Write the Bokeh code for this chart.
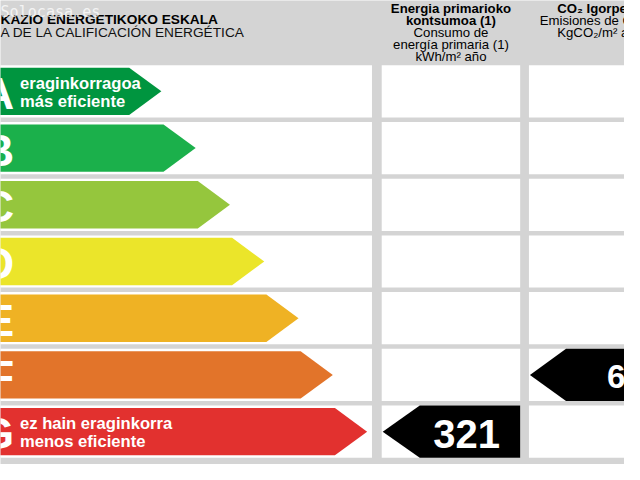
from bokeh.plotting import figure
from bokeh.models import Range1d
from bokeh.core.properties import value
from bokeh.embed import file_html
from bokeh.resources import INLINE

# ---- data ----
classes = ["A", "B", "C", "D", "E", "F", "G"]
class_colors = ["#00953f", "#1bb04b", "#95c63d", "#ebe52a", "#efb224", "#e2742a", "#e2312f"]
label_eu = ["eraginkorragoa", "", "", "", "", "", "ez hain eraginkorra"]
label_es = ["más eficiente", "", "", "", "", "", "menos eficiente"]
energy_class = "G"
energy_value = "321"
co2_class = "F"
co2_value = "6"
title_eu = "KAZIO ENERGETIKOKO ESKALA"
title_es = "A DE LA CALIFICACIÓN ENERGÉTICA"
col1_header = ["Energia primarioko", "kontsumoa (1)", "Consumo de", "energía primaria (1)", "kWh/m² año"]
col2_header = ["CO₂ Igorpenak", "Emisiones de CO₂", "KgCO₂/m² año"]

W, H = 624, 464
K = W / 640.0
FONT = value("Liberation Sans")

def fs(px):
    return value(f"{px * K:.1f}px")

p = figure(width=W, height=H, output_backend="svg", toolbar_location=None,
           x_range=Range1d(0, 640), y_range=Range1d(480, 0),
           min_border=0, background_fill_color="#d4d4d4", border_fill_color="#d4d4d4")
p.axis.visible = False
p.grid.visible = False
p.outline_line_color = None

ROW0, PITCH, ROWH = 67.0, 58.67, 54.0
def row_top(i):
    return ROW0 + PITCH * i
def row_c(i):
    return row_top(i) + ROWH / 2

n = len(classes)
# white panels
for (l, r) in [(-5, 381), (391, 533), (542, 645)]:
    p.quad(left=[l] * n, right=[r] * n,
           top=[row_top(i) for i in range(n)], bottom=[row_top(i) + ROWH for i in range(n)],
           fill_color="white", line_color=None)

# class arrows
xs, ys = [], []
for i in range(n):
    c = row_c(i)
    tip = 165 + 35.17 * i
    hh = 24.5
    xs.append([-60, tip - 33, tip, tip - 33, -60])
    ys.append([c - hh, c - hh, c, c + hh, c + hh])
p.patches(xs, ys, fill_color=class_colors, line_color=None)

# letters
p.text(x=[14] * n, y=[row_c(i) + 2 for i in range(n)], text=classes,
       text_align="right", text_baseline="middle", text_color="white",
       text_font=FONT, text_font_style="bold", text_font_size=fs(46))
# sub labels
for i in range(n):
    if label_eu[i]:
        c = row_c(i)
        p.text(x=[20], y=[c - 8], text=[label_eu[i]], text_align="left", text_baseline="middle",
               text_color="white", text_font=FONT, text_font_style="bold", text_font_size=fs(17))
        p.text(x=[20], y=[c + 10], text=[label_es[i]], text_align="left", text_baseline="middle",
               text_color="white", text_font=FONT, text_font_style="bold", text_font_size=fs(17))

# black indicator arrows
ei = classes.index(energy_class)
c = row_c(ei)
p.patch([392, 430, 533, 533, 430], [c, c - 27, c - 27, c + 27, c + 27], fill_color="black", line_color=None)
p.text(x=[478], y=[c + 2], text=[energy_value], text_align="center", text_baseline="middle",
       text_color="white", text_font=FONT, text_font_style="bold", text_font_size=fs(41))

ci = classes.index(co2_class)
c = row_c(ci)
p.patch([543, 580, 650, 650, 580], [c, c - 27, c - 27, c + 27, c + 27], fill_color="black", line_color=None)
p.text(x=[622], y=[c + 2], text=[co2_value], text_align="left", text_baseline="middle",
       text_color="white", text_font=FONT, text_font_style="bold", text_font_size=fs(34))

# headers
p.text(x=[0], y=[20], text=[title_eu], text_align="left", text_baseline="middle",
       text_color="black", text_font=FONT, text_font_style="bold", text_font_size=fs(14))
p.text(x=[0], y=[33], text=[title_es], text_align="left", text_baseline="middle",
       text_color="#111111", text_font=FONT, text_font_size=fs(14))

hy = [8, 20.5, 33, 45.5, 58]
for j, t in enumerate(col1_header):
    p.text(x=[462], y=[hy[j]], text=[t], text_align="center", text_baseline="middle",
           text_color="black", text_font=FONT, text_font_style="bold" if j < 2 else "normal",
           text_font_size=fs(13.5))
for j, (t, x0) in enumerate(zip(col2_header, [571, 553, 571])):
    p.text(x=[x0], y=[hy[j]], text=[t], text_align="left", text_baseline="middle",
           text_color="black", text_font=FONT, text_font_style="bold" if j == 0 else "normal",
           text_font_size=fs(13.5))

# watermark
p.text(x=[0], y=[12], text=["Solocasa.es"], text_align="left", text_baseline="middle",
       text_color="white", text_alpha=0.75, text_font=value("DejaVu Sans Mono"),
       text_font_size=fs(15.5))

open("out.html", "w").write(file_html(p, INLINE))
